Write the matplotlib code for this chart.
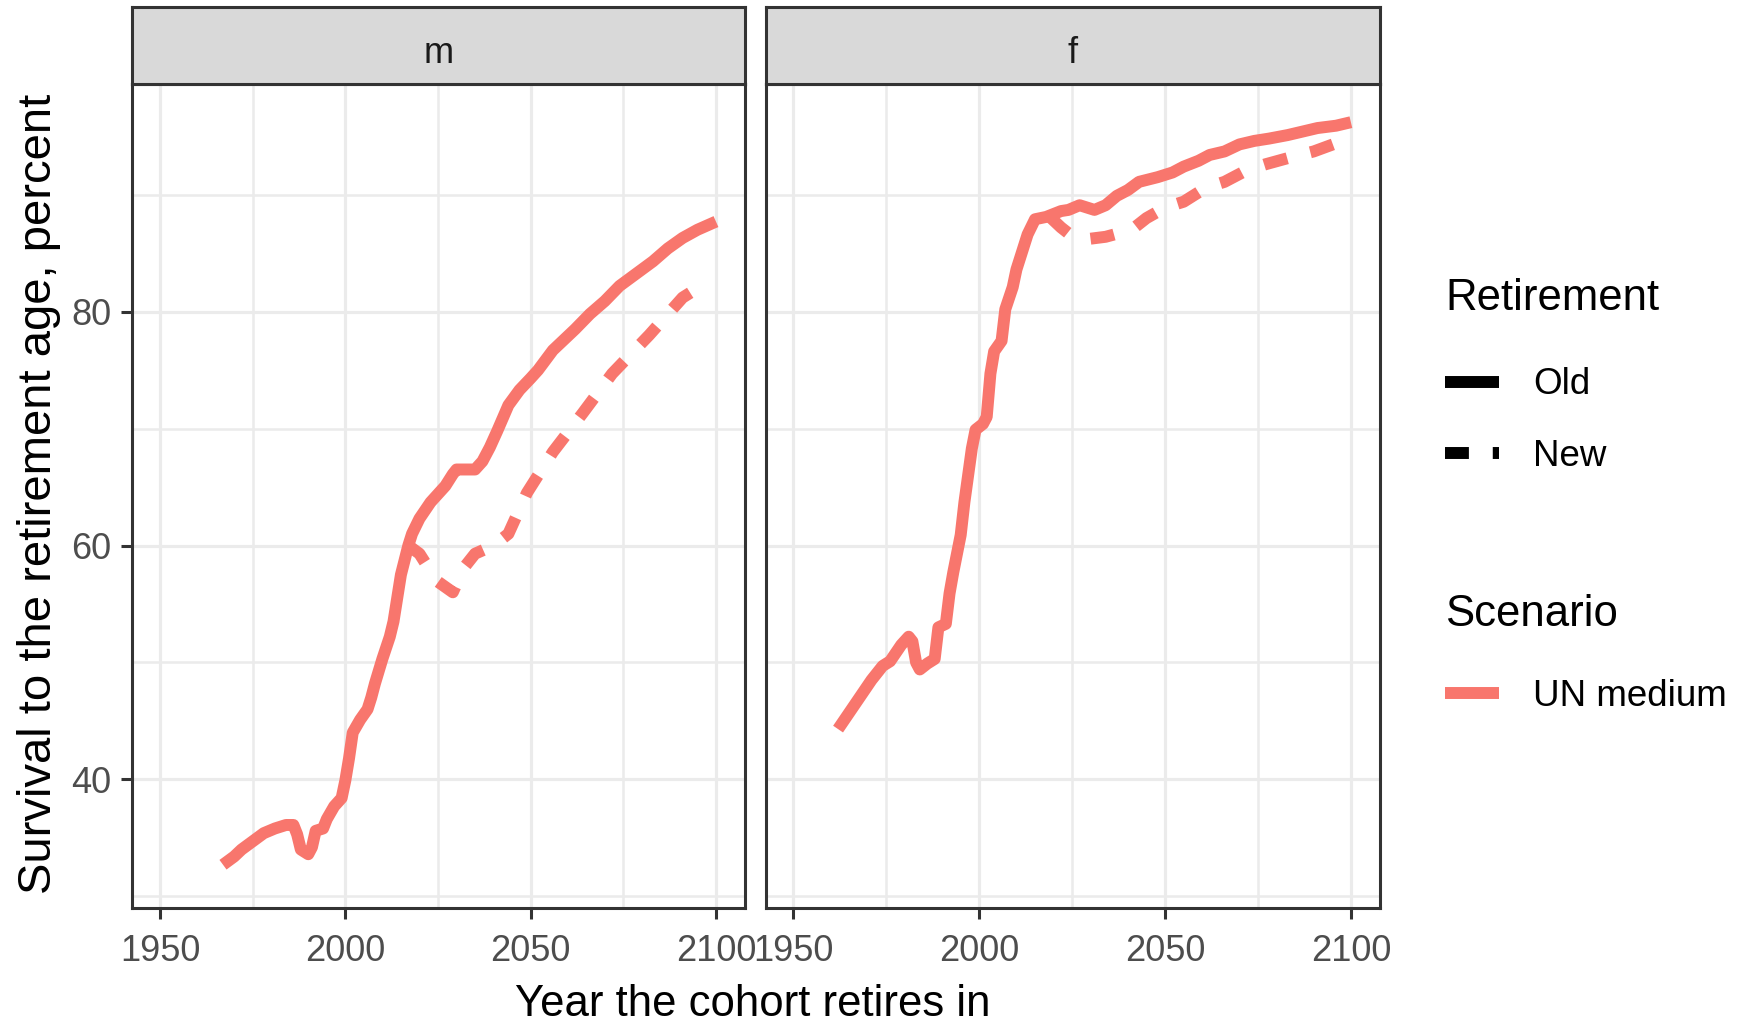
import matplotlib
matplotlib.use("Agg")
import matplotlib.pyplot as plt
from matplotlib.lines import Line2D
from matplotlib.ticker import FixedLocator

plt.rcParams['font.family'] = ['Liberation Sans', 'DejaVu Sans']

# values
male_old_years = [1967, 1970, 1972, 1975, 1978, 1981, 1984, 1986, 1987, 1988, 1990, 1991,
                  1992, 1994, 1995, 1997, 1999, 2000, 2001, 2002, 2004, 2006, 2007, 2008,
                  2010, 2012, 2013, 2014, 2015, 2017, 2018, 2020, 2023, 2027, 2029, 2030,
                  2035, 2037, 2039, 2041, 2044, 2047, 2050, 2052, 2056, 2059, 2062, 2066,
                  2070, 2074, 2077, 2080, 2083, 2087, 2091, 2095, 2100]
male_old = [32.7, 33.4, 34.0, 34.7, 35.4, 35.8, 36.1, 36.1, 35.3, 34.0, 33.6, 34.2,
            35.6, 35.8, 36.6, 37.7, 38.4, 39.9, 41.8, 44.0, 45.1, 46.0, 47.0, 48.2,
            50.3, 52.2, 53.5, 55.5, 57.5, 60.0, 61.0, 62.3, 63.7, 65.1, 66.1, 66.5,
            66.5, 67.2, 68.4, 69.8, 72.0, 73.3, 74.3, 75.0, 76.7, 77.6, 78.5, 79.8,
            80.9, 82.2, 82.9, 83.6, 84.3, 85.4, 86.3, 87.0, 87.7]

male_new_years = [2017, 2020, 2023, 2025, 2029, 2032, 2035, 2040, 2044, 2049, 2056,
                  2064, 2072, 2082, 2091, 2094]
male_new = [60.0, 59.3, 57.8, 56.9, 56.0, 58.1, 59.3, 60.0, 61.0, 64.5, 68.0,
            71.3, 74.7, 78.0, 81.2, 81.8]

female_old_years = [1962, 1965, 1968, 1971, 1974, 1976, 1979, 1981, 1982, 1983, 1984, 1986,
                    1988, 1989, 1991, 1992, 1993, 1995, 1996, 1997, 1998, 1999, 2001, 2002,
                    2003, 2004, 2006, 2007, 2009, 2010, 2011, 2013, 2015, 2018, 2022, 2024,
                    2027, 2031, 2034, 2037, 2040, 2043, 2048, 2052, 2055, 2059, 2062, 2066,
                    2070, 2074, 2078, 2083, 2087, 2091, 2096, 2100]
female_old = [44.3, 45.7, 47.1, 48.5, 49.7, 50.1, 51.5, 52.2, 51.8, 50.0, 49.4, 49.9,
              50.3, 53.0, 53.3, 55.9, 57.7, 60.9, 63.7, 66.0, 68.3, 69.9, 70.4, 71.0,
              74.7, 76.6, 77.5, 80.2, 82.1, 83.6, 84.6, 86.6, 87.9, 88.1, 88.6, 88.7,
              89.1, 88.7, 89.1, 89.9, 90.4, 91.1, 91.5, 91.9, 92.4, 92.9, 93.4, 93.7,
              94.3, 94.6, 94.8, 95.1, 95.4, 95.7, 95.9, 96.2]

female_new_years = [2019, 2022, 2024, 2029, 2034, 2041, 2045, 2050, 2055, 2061, 2066,
                    2072, 2077, 2085, 2090, 2096, 2100]
female_new = [88.1, 87.2, 86.7, 86.2, 86.4, 87.0, 88.0, 88.9, 89.4, 90.6, 91.1,
              92.1, 92.6, 93.3, 93.7, 94.4, 94.8]

facets = ['m', 'f']
retirement_labels = ['Old', 'New']
scenario_labels = ['UN medium']
x_major = [1950, 2000, 2050, 2100]
x_minor = [1975, 2025, 2075]
y_major = [40, 60, 80]
y_minor = [30, 50, 70, 90]

series = {
    'm': [(male_old_years, male_old), (male_new_years, male_new)],
    'f': [(female_old_years, female_old), (female_new_years, female_new)],
}

LINE_COL = '#F8766D'
DARK = '#333333'
LW = 8.6
DASH = (0, (2, 2))

W, H = 1751, 1025


def box(x0, y0, x1, y1):
    # pixel box (top-left origin) -> figure fraction
    return [x0 / W, 1 - y1 / H, (x1 - x0) / W, (y1 - y0) / H]


fig = plt.figure(figsize=(W / 100, H / 100), dpi=100)

panel_x = [(132.2, 744.5), (765.6, 1379.5)]
axes = []
for i, (name, (x0, x1)) in enumerate(zip(facets, panel_x)):
    ax = fig.add_axes(box(x0, 84.2, x1, 908))
    axes.append(ax)
    (oy, ov), (ny, nv) = series[name]
    ax.plot(oy, ov, color=LINE_COL, lw=LW, solid_capstyle='butt', solid_joinstyle='round')
    ax.plot(ny, nv, color=LINE_COL, lw=LW, linestyle=DASH,
            dash_capstyle='butt', dash_joinstyle='round')

    ax.set_xlim(1942.5, 2107.7)
    ax.set_ylim(29.0, 99.45)
    ax.xaxis.set_major_locator(FixedLocator(x_major))
    ax.xaxis.set_minor_locator(FixedLocator(x_minor))
    ax.yaxis.set_major_locator(FixedLocator(y_major))
    ax.yaxis.set_minor_locator(FixedLocator(y_minor))
    ax.set_axisbelow(True)
    ax.grid(which='major', color='#EBEBEB', lw=2.3)
    ax.grid(which='minor', color='#EBEBEB', lw=1.8)
    ax.tick_params(which='minor', length=0)
    ax.tick_params(which='major', length=8, width=2.2, color=DARK,
                   labelsize=26, labelcolor='#4D4D4D')
    ax.tick_params(axis='x', pad=11)
    ax.tick_params(axis='y', pad=7)
    for sp in ax.spines.values():
        sp.set_color(DARK)
        sp.set_linewidth(2.2)
    if i > 0:
        ax.tick_params(axis='y', left=False, labelleft=False)

    # facet strip
    sax = fig.add_axes(box(x0, 7.3, x1, 84.2))
    sax.set_facecolor('#D9D9D9')
    sax.set_xticks([])
    sax.set_yticks([])
    for sp in sax.spines.values():
        sp.set_color(DARK)
        sp.set_linewidth(2.2)
    sax.text(0.5, 0.28, name, transform=sax.transAxes, ha='center', va='baseline',
             fontsize=26, color='#1A1A1A')

fig.text(753 / W, (H - 1015.5) / H, 'Year the cohort retires in', ha='center',
         va='baseline', fontsize=31.5, color='black')
fig.text(39.5 / W, 1 - 494 / H, 'Survival to the retirement age, percent', rotation=90,
         ha='center', va='center', fontsize=34, color='black')

# legends
leg_kw = dict(loc='upper left', frameon=False, fontsize=26.5, title_fontsize=31.5,
              handlelength=1.47, handletextpad=0.93, labelspacing=1.0, borderpad=0,
              borderaxespad=0, alignment='left')
ret_handles = [Line2D([], [], color='black', lw=LW, solid_capstyle='butt'),
               Line2D([], [], color='black', lw=LW, linestyle=DASH, dash_capstyle='butt')]
leg1 = fig.legend(ret_handles, retirement_labels, title='Retirement',
                  bbox_to_anchor=(1445 / W, 1 - 278 / H), **leg_kw)
leg1._legend_box.sep = 34.9  # extra gap below the title, as in ggplot
scen_handles = [Line2D([], [], color=LINE_COL, lw=LW, solid_capstyle='butt')]
leg2 = fig.legend(scen_handles, scenario_labels, title='Scenario',
                  bbox_to_anchor=(1445 / W, 1 - 594 / H), **leg_kw)
leg2._legend_box.sep = 31.6

fig.savefig('out.png', dpi=100, facecolor='white')
